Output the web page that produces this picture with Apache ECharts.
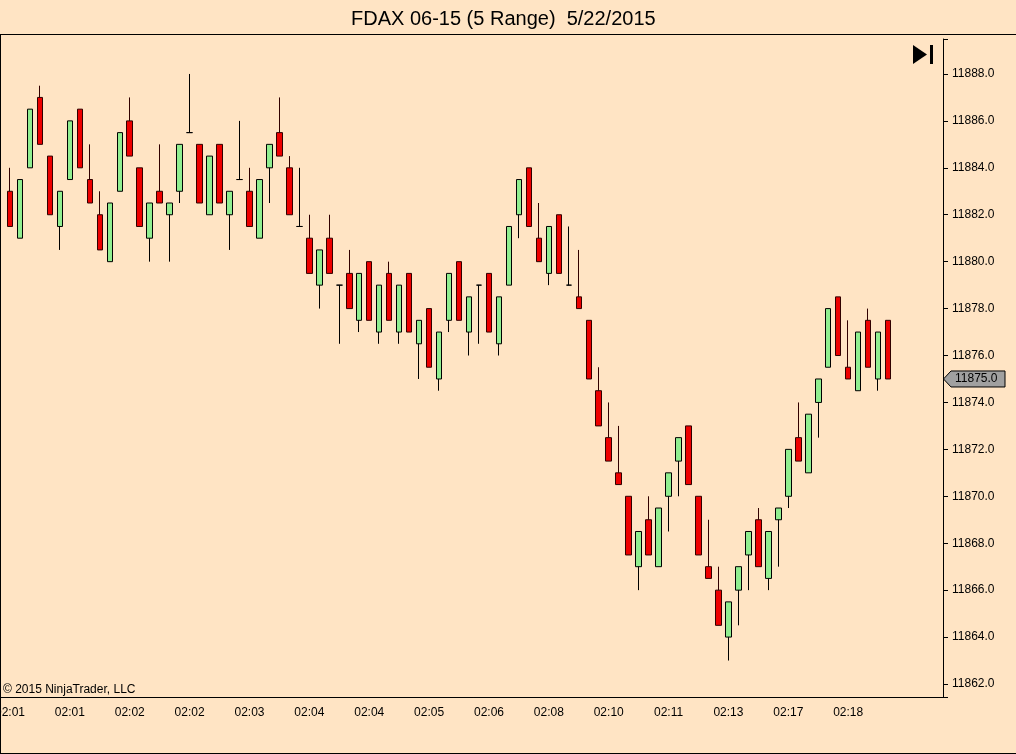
<!DOCTYPE html>
<html><head><meta charset="utf-8">
<script src="https://cdn.jsdelivr.net/npm/echarts@6.0.0/dist/echarts.min.js"></script>
<style>html,body{margin:0;padding:0;background:#FFE4C4;}#c{width:1016px;height:754px;}</style>
</head><body><div id="c"></div>
<script>
const titleText = 'FDAX 06-15 (5 Range)  5/22/2015';
const tickLabels = ['02:01','02:01','02:02','02:02','02:03','02:04','02:04','02:05','02:06','02:08','02:10','02:11','02:13','02:17','02:18'];
const opens = [11883.0,11881.0,11884.0,11887.0,11884.5,11881.5,11883.5,11886.5,11883.5,11882.0,
11880.0,11883.0,11886.0,11884.0,11881.0,11883.0,11882.0,11883.0,11885.5,11885.0,
11882.0,11885.0,11882.0,11883.5,11883.0,11881.0,11884.0,11885.5,11884.0,11881.5,
11881.0,11879.0,11881.0,11879.0,11879.5,11877.5,11880.0,11877.0,11879.5,11877.0,
11879.5,11876.5,11878.0,11875.0,11877.5,11880.0,11877.0,11879.0,11879.5,11876.5,
11879.0,11882.0,11884.0,11881.0,11879.5,11882.0,11879.0,11878.5,11877.5,11874.5,
11872.5,11871.0,11870.0,11867.0,11869.0,11867.0,11870.0,11871.5,11873.0,11870.0,
11867.0,11866.0,11864.0,11866.0,11867.5,11869.0,11866.5,11869.0,11870.0,11872.5,
11871.0,11874.0,11875.5,11878.5,11875.5,11874.5,11877.5,11875.0,11877.5];
const closes = [11881.5,11883.5,11886.5,11885.0,11882.0,11883.0,11886.0,11884.0,11882.5,11880.5,
11882.5,11885.5,11884.5,11881.5,11882.5,11882.5,11882.5,11885.0,11885.5,11882.5,
11884.5,11882.5,11883.0,11883.5,11881.5,11883.5,11885.0,11884.5,11882.0,11881.5,
11879.5,11880.5,11879.5,11879.0,11878.0,11879.5,11877.5,11879.0,11877.5,11879.0,
11877.0,11877.5,11875.5,11877.0,11879.5,11877.5,11878.5,11879.0,11877.0,11878.5,
11881.5,11883.5,11881.5,11880.0,11881.5,11879.5,11879.0,11878.0,11875.0,11873.0,
11871.5,11870.5,11867.5,11868.5,11867.5,11869.5,11871.0,11872.5,11870.5,11867.5,
11866.5,11864.5,11865.5,11867.0,11868.5,11867.0,11868.5,11869.5,11872.0,11871.5,
11873.5,11875.0,11878.0,11876.0,11875.0,11877.0,11875.5,11877.0,11875.0];
const lows = [11881.5,11881.0,11884.0,11885.0,11882.0,11880.5,11883.5,11884.0,11882.5,11880.5,
11880.0,11883.0,11884.5,11881.5,11880.0,11882.5,11880.0,11882.5,11885.5,11882.5,
11882.0,11882.5,11880.5,11883.5,11881.5,11881.0,11882.5,11884.5,11882.0,11881.5,
11879.5,11878.0,11879.5,11876.5,11878.0,11877.0,11877.5,11876.5,11877.5,11876.5,
11877.0,11875.0,11875.5,11874.5,11877.0,11877.5,11876.0,11876.5,11877.0,11876.0,
11879.0,11881.0,11881.5,11880.0,11879.0,11879.5,11879.0,11878.0,11875.0,11873.0,
11871.5,11870.5,11867.5,11866.0,11867.5,11867.0,11868.5,11870.0,11870.5,11867.5,
11866.5,11864.5,11863.0,11864.5,11866.0,11867.0,11866.0,11867.0,11869.5,11871.5,
11871.0,11872.5,11875.5,11876.0,11875.0,11874.5,11875.5,11874.5,11875.0];
const highs = [11884.0,11883.5,11886.5,11887.5,11884.5,11883.0,11886.0,11886.5,11885.0,11883.0,
11882.5,11885.5,11887.0,11884.0,11882.5,11885.0,11882.5,11885.0,11888.0,11885.0,
11884.5,11885.0,11883.0,11886.0,11884.0,11883.5,11885.0,11887.0,11884.5,11884.0,
11882.0,11880.5,11882.0,11879.0,11880.5,11879.5,11880.0,11879.0,11880.0,11879.0,
11879.5,11877.5,11878.0,11877.0,11879.5,11880.0,11878.5,11879.0,11879.5,11878.5,
11881.5,11883.5,11884.0,11882.5,11881.5,11882.0,11881.5,11880.5,11877.5,11875.5,
11874.0,11873.0,11870.0,11868.5,11870.0,11869.5,11871.0,11872.5,11873.0,11870.0,
11869.0,11867.0,11865.5,11867.0,11868.5,11869.5,11868.5,11869.5,11872.0,11874.0,
11873.5,11875.0,11878.0,11878.5,11877.5,11877.0,11878.0,11877.0,11877.5];

const FONT = 'Liberation Sans, Arial, sans-serif';
const nBars = opens.length;
const nSlots = 94;
const categories = [];
for (let i = 0; i < nSlots; i++) {
  categories.push(i < nBars && i % 6 === 0 ? tickLabels[i / 6] : '');
}
const candleData = opens.map((o, i) => [o, closes[i], lows[i], highs[i]]);
const lastClose = closes[nBars - 1];
const showTick = (idx) => idx < nBars && idx % 6 === 0;

const staticGraphics = [
  {type:'line', shape:{x1:0,y1:34.5,x2:1016,y2:34.5}, style:{stroke:'#000',lineWidth:1}, silent:true},
  {type:'line', shape:{x1:0.5,y1:34,x2:0.5,y2:754}, style:{stroke:'#000',lineWidth:1}, silent:true},
  {type:'line', shape:{x1:0,y1:753.5,x2:1016,y2:753.5}, style:{stroke:'#000',lineWidth:1}, silent:true},
  {type:'line', shape:{x1:0,y1:697.5,x2:6,y2:697.5}, style:{stroke:'#000',lineWidth:1}, silent:true},
  {type:'polygon', shape:{points:[[913,45],[913,64],[927,54.5]]}, style:{fill:'#000'}, silent:true},
  {type:'rect', shape:{x:930,y:45,width:3,height:19}, style:{fill:'#000'}, silent:true},
  {type:'text', x:3, y:690, style:{text:'\u00A9 2015 NinjaTrader, LLC', font:'12px ' + FONT, fill:'#000', verticalAlign:'middle'}, silent:true}
];

const chart = echarts.init(document.getElementById('c'), null, {renderer:'canvas'});
const option = {
  backgroundColor: '#FFE4C4',
  animation: false,
  title: {
    text: titleText, left: 346, top: 4,
    textStyle: {fontSize: 20, fontWeight: 'normal', color: '#000', fontFamily: FONT}
  },
  grid: {left: 5, right: 73, top: 39, bottom: 57, containLabel: false, outerBoundsMode: 'none'},
  xAxis: {
    type: 'category', data: categories, boundaryGap: true,
    axisLine: {lineStyle: {color: '#000', width: 1}},
    axisTick: {alignWithLabel: true, interval: showTick, length: 5, lineStyle: {color: '#000'}},
    axisLabel: {interval: showTick, color: '#000', fontSize: 12, fontFamily: FONT, margin: 10},
    splitLine: {show: false}
  },
  yAxis: {
    type: 'value', position: 'right', scale: true,
    min: 11861.446, max: 11889.49, splitNumber: 14,
    axisLine: {show: true, lineStyle: {color: '#000', width: 1}},
    axisTick: {show: true, length: 5, lineStyle: {color: '#000'}},
    axisLabel: {
      color: '#000', fontSize: 12, fontFamily: FONT, margin: 9,
      formatter: (v) => Math.abs(v / 2 - Math.round(v / 2)) < 1e-6 ? v.toFixed(1) : ''
    },
    splitLine: {show: false}
  },
  series: [{
    type: 'candlestick',
    data: candleData,
    barWidth: 6,
    itemStyle: {
      color: '#90EE90', color0: '#EE0000',
      borderColor: '#000', borderColor0: '#300000', borderColorDoji: '#000', borderWidth: 1
    }
  }],
  graphic: staticGraphics
};
chart.setOption(option);

const py = chart.convertToPixel({yAxisIndex: 0}, lastClose);
const marker = [
  {type:'polygon', shape:{points:[[943.5,py],[951,py-8],[1005,py-8],[1005,py+8],[951,py+8]]}, style:{fill:'#A0A0A0', stroke:'#000', lineWidth:1}, silent:true},
  {type:'text', x:955, y:py, style:{text: lastClose.toFixed(1), font:'12px ' + FONT, fill:'#000', verticalAlign:'middle'}, silent:true}
];
chart.setOption({graphic: staticGraphics.concat(marker)});
</script></body></html>
